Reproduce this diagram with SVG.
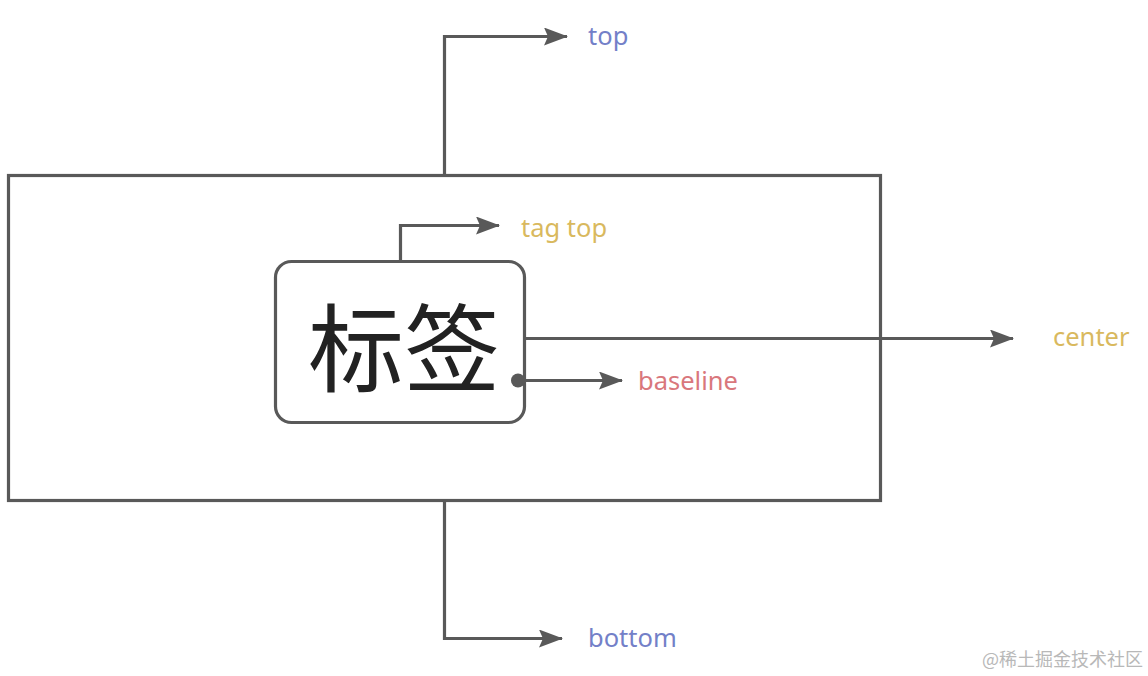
<svg xmlns="http://www.w3.org/2000/svg" width="1148" height="676" viewBox="0 0 1148 676">
<defs>
<style>
.ln{fill:none;stroke:#595959;stroke-width:3.2}
.lbl{font-family:"Noto Sans","Noto Sans CJK SC",sans-serif;font-size:25.5px}
.blue{fill:#7380c8}
.yel{fill:#d9b95e}
.pink{fill:#d9777c}
</style>
<marker id="ahb" markerWidth="24" markerHeight="18" refX="23" refY="9" orient="auto" markerUnits="userSpaceOnUse" viewBox="0 0 24 18">
<path d="M0,0 L24,9 L0,18 L4,9 Z" fill="#595959"/>
</marker>
</defs>
<rect width="1148" height="676" fill="#ffffff"/>
<g id="outer">
<rect x="8.5" y="175.5" width="872" height="325" class="ln"/>
</g>
<g id="tag">
<rect x="275.5" y="261.5" width="249" height="161" rx="16" class="ln" fill="#fff"/>
<text x="404" y="384" text-anchor="middle" font-family="'Noto Sans CJK SC',sans-serif" font-size="96" fill="#222">标签</text>
</g>
<g id="connectors">
<path d="M444.5,175 V36.5 H567" class="ln" marker-end="url(#ahb)"/>
<path d="M400.5,261 V225.5 H499" class="ln" marker-end="url(#ahb)"/>
<path d="M525,338.5 H1013" class="ln" marker-end="url(#ahb)"/>
<path d="M517,380.5 H622" class="ln" marker-end="url(#ahb)"/>
<circle cx="518" cy="380.5" r="7" fill="#595959"/>
<path d="M444.5,500 V638.5 H562" class="ln" marker-end="url(#ahb)"/>
</g>
<g id="labels">
<text x="588" y="45" class="lbl blue">top</text>
<text x="521" y="237" class="lbl yel">tag top</text>
<text x="1053" y="346" class="lbl yel">center</text>
<text x="638" y="390" class="lbl pink">baseline</text>
<text x="588" y="647" class="lbl blue">bottom</text>
</g>
<text x="982" y="666" font-family="'Noto Sans CJK SC',sans-serif" font-size="18" fill="#b8b8b8">@稀土掘金技术社区</text>
</svg>
